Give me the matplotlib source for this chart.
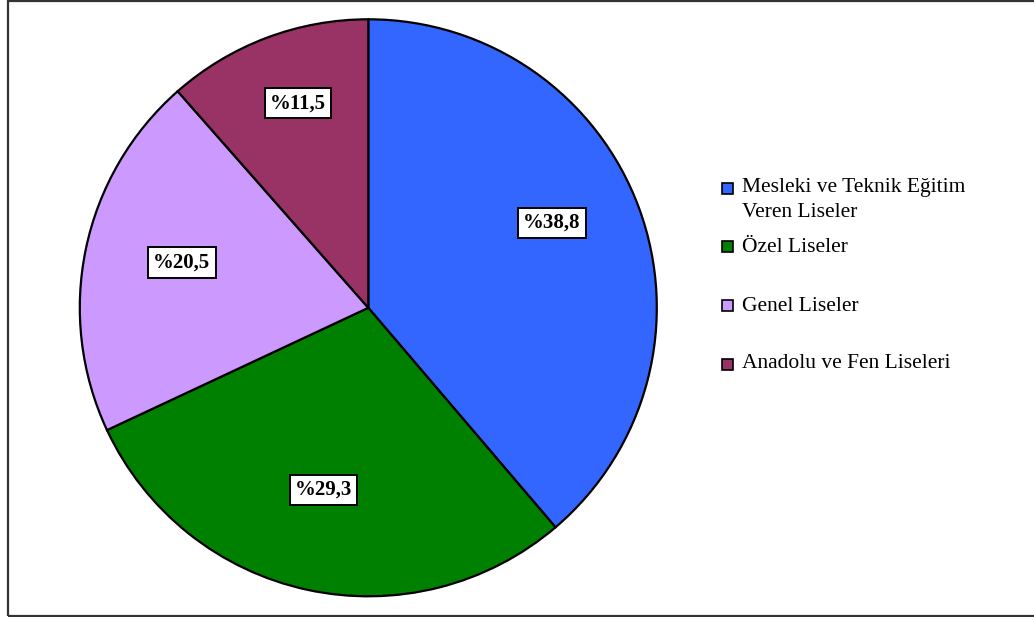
import matplotlib
matplotlib.use("Agg")
import numpy as np
import matplotlib.pyplot as plt
from matplotlib.patches import Rectangle

categories = ["Mesleki ve Teknik Eğitim\nVeren Liseler", "Özel Liseler",
              "Genel Liseler", "Anadolu ve Fen Liseleri"]
values = [38.8, 29.3, 20.5, 11.5]
value_labels = ["%38,8", "%29,3", "%20,5", "%11,5"]
colors = ["#3366FF", "#008000", "#CC99FF", "#993366"]

plt.rcParams["font.family"] = ["Liberation Serif", "DejaVu Serif"]

W, H = 1034, 617
fig = plt.figure(figsize=(W / 100, H / 100), dpi=100)

# frame around the chart area
fig.add_artist(Rectangle((7.5 / W, 1 - 615.5 / H), (W + 5) / W, 615 / H,
                         transform=fig.transFigure, fill=False,
                         edgecolor="#333333", linewidth=1.6))

cx, cy, r = 368.3, 307.8, 288.5
ax = fig.add_axes([(cx - r) / W, 1 - (cy + r) / H, 2 * r / W, 2 * r / H])
wedges, _ = ax.pie(values, colors=colors, startangle=90, counterclock=False,
                   radius=1.0, wedgeprops=dict(edgecolor="black", linewidth=1.6))
ax.set_xlim(-1, 1)
ax.set_ylim(-1, 1)
ax.set_aspect("equal")
ax.axis("off")

# label placement relative to each wedge's middle
label_r = [0.70, 0.65, 0.665, 0.75]
label_shift = [4.6, -1.6, -1.9, -1.7]
for w, txt, lr, sh in zip(wedges, value_labels, label_r, label_shift):
    ang = np.deg2rad((w.theta1 + w.theta2) / 2 + sh)
    ax.text(lr * np.cos(ang), lr * np.sin(ang), txt, ha="center", va="center",
            fontsize=15, fontweight="bold",
            bbox=dict(boxstyle="square,pad=0.25", facecolor="white",
                      edgecolor="black", linewidth=1.4))

# legend
sq_y = [188, 246.5, 305.5, 364]
txt_y = [200, 247, 306, 364]
sq = 11
for c, lab, sy, ty in zip(colors, categories, sq_y, txt_y):
    fig.add_artist(Rectangle((722 / W, 1 - (sy + sq / 2) / H), sq / W, sq / H,
                             transform=fig.transFigure, facecolor=c,
                             edgecolor="black", linewidth=1.2))
    fig.text(742 / W, 1 - ty / H, lab, ha="left", va="center", fontsize=15.5,
             linespacing=1.44)

fig.savefig("out.png", dpi=100)
